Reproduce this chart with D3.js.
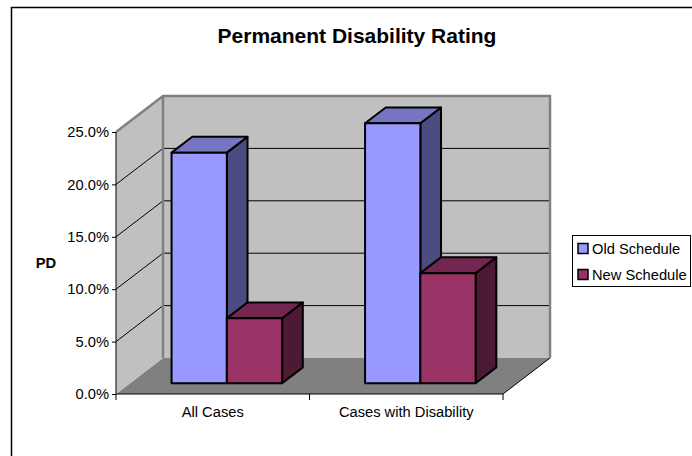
<!DOCTYPE html>
<html>
<head>
<meta charset="utf-8">
<script src="https://cdn.jsdelivr.net/npm/d3@7"></script>
<style>
  body { margin: 0; background: #fff; }
  svg { display: block; font-family: Arial, "Liberation Sans", sans-serif; }
</style>
</head>
<body>
<svg width="692" height="456"></svg>
<script>
// chart data
var categories = ["All Cases", "Cases with Disability"];
var series_names = ["Old Schedule", "New Schedule"];
var old_schedule = [0.22, 0.248];
var new_schedule = [0.062, 0.105];
var y_ticks = [0, 0.05, 0.10, 0.15, 0.20, 0.25];

var series_values = [old_schedule, new_schedule];
var series_colors = [
    { front: "#9999FF", top: "#7575C2", side: "#4C4C80" },
    { front: "#993366", top: "#73264F", side: "#4C1A33" }
];

var svg = d3.select("svg");

// outer frame (runs off the right / bottom of the picture)
svg.append("rect")
    .attr("x", 11.5).attr("y", 7.5)
    .attr("width", 720).attr("height", 480)
    .attr("fill", "#fff")
    .attr("stroke", "#000")
    .attr("stroke-width", 1.5);

// front plane scales + depth offset
var x_scale = d3.scaleBand().domain(categories).range([116, 503]);
var s_scale = d3.scaleBand().domain(series_names)
    .range([0, x_scale.bandwidth()])
    .paddingInner(0).paddingOuter(0.75);
var y_scale = d3.scaleLinear().domain([0, 0.25]).range([394, 132]);
var depth_x = d3.scaleLinear().domain([0, 1]).range([0, 47]);
var depth_y = d3.scaleLinear().domain([0, 1]).range([0, -36]);

function proj(x, v, d) {
    return [x + depth_x(d), y_scale(v) + depth_y(d)];
}
function poly(pts) {
    return pts.map(function (p) { return p.join(","); }).join(" ");
}

var x0 = x_scale.range()[0], x1 = x_scale.range()[1];
var vmax = y_scale.domain()[1];

// floor
svg.append("polygon")
    .attr("points", poly([proj(x0, 0, 0), proj(x1, 0, 0), proj(x1, 0, 1), proj(x0, 0, 1)]))
    .attr("fill", "#808080");
svg.append("line")
    .attr("x1", proj(x1, 0, 0)[0]).attr("y1", proj(x1, 0, 0)[1])
    .attr("x2", proj(x1, 0, 1)[0]).attr("y2", proj(x1, 0, 1)[1])
    .attr("stroke", "#000").attr("stroke-width", 1);

// side wall
svg.append("polygon")
    .attr("points", poly([proj(x0, 0, 0), proj(x0, 0, 1), proj(x0, vmax, 1), proj(x0, vmax, 0)]))
    .attr("fill", "#C0C0C0");

// back wall
svg.append("polygon")
    .attr("points", poly([proj(x0, 0, 1), proj(x1, 0, 1), proj(x1, vmax, 1), proj(x0, vmax, 1)]))
    .attr("fill", "#C0C0C0");

// gridlines on both walls
var grid = y_ticks.filter(function (t) { return t > 0 && t < vmax; });
svg.selectAll(".grid-back").data(grid).enter().append("line")
    .attr("x1", function (t) { return proj(x0, t, 1)[0]; })
    .attr("y1", function (t) { return proj(x0, t, 1)[1]; })
    .attr("x2", function (t) { return proj(x1, t, 1)[0]; })
    .attr("y2", function (t) { return proj(x1, t, 1)[1]; })
    .attr("stroke", "#000").attr("stroke-width", 1);
svg.selectAll(".grid-side").data(grid).enter().append("line")
    .attr("x1", function (t) { return proj(x0, t, 0)[0]; })
    .attr("y1", function (t) { return proj(x0, t, 0)[1]; })
    .attr("x2", function (t) { return proj(x0, t, 1)[0]; })
    .attr("y2", function (t) { return proj(x0, t, 1)[1]; })
    .attr("stroke", "#000").attr("stroke-width", 1);

// wall edges (gray)
svg.append("polyline")
    .attr("points", poly([proj(x0, vmax, 0), proj(x0, vmax, 1), proj(x1, vmax, 1), proj(x1, 0, 1)]))
    .attr("fill", "none").attr("stroke", "#808080").attr("stroke-width", 2.5);
svg.append("line")
    .attr("x1", proj(x0, vmax, 1)[0]).attr("y1", proj(x0, vmax, 1)[1])
    .attr("x2", proj(x0, 0, 1)[0]).attr("y2", proj(x0, 0, 1)[1])
    .attr("stroke", "#808080").attr("stroke-width", 2.5);

// axes
svg.append("line")
    .attr("x1", x0).attr("y1", y_scale(0))
    .attr("x2", x0).attr("y2", y_scale(vmax))
    .attr("stroke", "#000").attr("stroke-width", 1);
svg.append("line")
    .attr("x1", x0).attr("y1", y_scale(0))
    .attr("x2", x1).attr("y2", y_scale(0))
    .attr("stroke", "#000").attr("stroke-width", 1);

var y_axis = svg.append("g").attr("transform", "translate(" + x0 + ",0)")
    .call(d3.axisLeft(y_scale).tickValues(y_ticks).tickSize(4).tickPadding(3)
        .tickFormat(d3.format(".1%")));
y_axis.select(".domain").remove();
y_axis.selectAll("text").attr("font-size", "14.7px").attr("font-family", "Arial, 'Liberation Sans', sans-serif").attr("fill", "#000");
y_axis.selectAll("line").attr("stroke", "#000");

// x ticks at band edges
var x_edges = categories.map(function (c) { return x_scale(c); }).concat([x1]);
svg.selectAll(".xtick").data(x_edges).enter().append("line")
    .attr("x1", function (d) { return d; }).attr("x2", function (d) { return d; })
    .attr("y1", y_scale(0)).attr("y2", y_scale(0) + 6)
    .attr("stroke", "#000");
svg.selectAll(".xlabel").data(categories).enter().append("text")
    .attr("x", function (d) { return x_scale(d) + x_scale.bandwidth() / 2; })
    .attr("y", 417)
    .attr("text-anchor", "middle")
    .attr("font-size", "14.7px")
    .text(function (d) { return d; });

// 3d bars
var bar_d0 = 0.3, bar_d1 = 0.74;
var bars = svg.append("g")
    .attr("stroke", "#000").attr("stroke-width", 2).attr("stroke-linejoin", "round");
categories.forEach(function (cat, ci) {
    series_names.forEach(function (s, si) {
        var v = series_values[si][ci];
        var bx0 = x_scale(cat) + s_scale(s);
        var bx1 = bx0 + s_scale.bandwidth();
        var col = series_colors[si];
        bars.append("polygon")
            .attr("points", poly([proj(bx1, 0, bar_d0), proj(bx1, 0, bar_d1), proj(bx1, v, bar_d1), proj(bx1, v, bar_d0)]))
            .attr("fill", col.side);
        bars.append("polygon")
            .attr("points", poly([proj(bx0, v, bar_d0), proj(bx1, v, bar_d0), proj(bx1, v, bar_d1), proj(bx0, v, bar_d1)]))
            .attr("fill", col.top);
        bars.append("polygon")
            .attr("points", poly([proj(bx0, 0, bar_d0), proj(bx1, 0, bar_d0), proj(bx1, v, bar_d0), proj(bx0, v, bar_d0)]))
            .attr("fill", col.front);
    });
});

// title + axis title
svg.append("text")
    .attr("x", 357).attr("y", 43)
    .attr("text-anchor", "middle")
    .attr("font-size", "21px").attr("font-weight", "bold")
    .text("Permanent Disability Rating");
svg.append("text")
    .attr("x", 46).attr("y", 268)
    .attr("text-anchor", "middle")
    .attr("font-size", "14.7px").attr("font-weight", "bold")
    .text("PD");

// legend
var legend = svg.append("g").attr("transform", "translate(572,235)");
legend.append("rect")
    .attr("x", 0.5).attr("y", 0.5)
    .attr("width", 118).attr("height", 51)
    .attr("fill", "#fff").attr("stroke", "#000").attr("stroke-width", 1);
var items = legend.selectAll(".legend-item").data(series_names).enter().append("g")
    .attr("transform", function (d, i) { return "translate(0," + (i * 26) + ")"; });
items.append("rect")
    .attr("x", 6).attr("y", 8.5)
    .attr("width", 10).attr("height", 10)
    .attr("fill", function (d, i) { return series_colors[i].front; })
    .attr("stroke", "#000").attr("stroke-width", 1.5);
items.append("text")
    .attr("x", 20).attr("y", 18.5)
    .attr("font-size", "14.7px")
    .text(function (d) { return d; });
</script>
</body>
</html>
